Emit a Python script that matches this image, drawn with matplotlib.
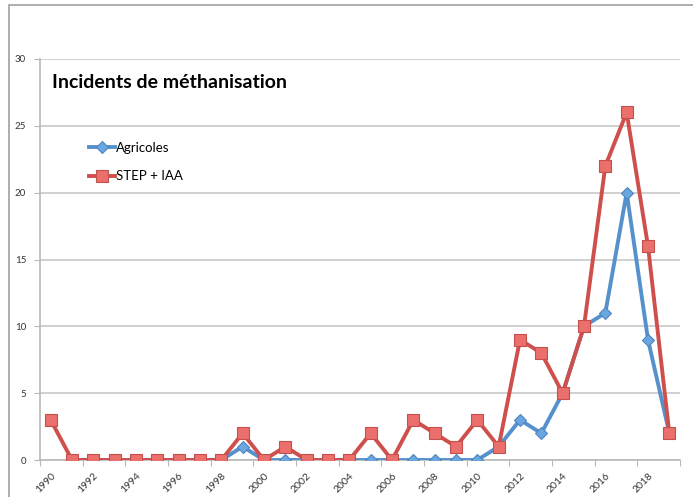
import matplotlib
matplotlib.use("Agg")
import matplotlib.pyplot as plt
import numpy as np
from matplotlib.patches import Rectangle

years = list(range(1990, 2020))
agricoles = [np.nan, 0, 0, 0, 0, 0, 0, 0, 0, 1, 0, 0, 0, 0, 0, 0, 0, 0, 0, 0, 0, 1, 3, 2, 5, 10, 11, 20, 9, 2]
step_iaa = [3, 0, 0, 0, 0, 0, 0, 0, 0, 2, 0, 1, 0, 0, 0, 2, 0, 3, 2, 1, 3, 1, 9, 8, 5, 10, 22, 26, 16, 2]
yticks = [0, 5, 10, 15, 20, 25, 30]
title = "Incidents de méthanisation"
labels = ["Agricoles", "STEP + IAA"]

W, H = 693, 497
fig = plt.figure(figsize=(W / 100, H / 100), dpi=100)
fig.patch.set_facecolor("white")

# outer chart frame
fig.add_artist(Rectangle((9 / W, -0.2), 1.2, 1.2 - 5 / H, transform=fig.transFigure,
                         fill=False, edgecolor="#a0a0a0", linewidth=1.2))

ax = fig.add_axes([40 / W, 1 - 460 / H, 640 / W, 401 / H])
x = np.arange(len(years))

ax.plot(x, agricoles, color="#5591cc", linewidth=2.8, marker="D", markersize=6.5,
        markerfacecolor="#6aa6e0", markeredgecolor="#4f86c0", markeredgewidth=0.8,
        label=labels[0], zorder=3)
ax.plot(x, step_iaa, color="#cf4f4c", linewidth=2.8, marker="s", markersize=8.5,
        markerfacecolor="#eb6f6c", markeredgecolor="#c4504d", markeredgewidth=0.8,
        label=labels[1], zorder=4)

ax.set_xlim(-0.5, len(years) - 0.5)
ax.set_ylim(0, 30)
ax.set_yticks(yticks)
ax.yaxis.grid(True, color="#c8c8c8", linewidth=1.2)
ax.set_axisbelow(True)
for s in ["top", "right"]:
    ax.spines[s].set_visible(False)
for s in ["left", "bottom"]:
    ax.spines[s].set_color("#b8b8b8")
    ax.spines[s].set_linewidth(1.2)

ax.tick_params(axis="y", length=4, color="#b8b8b8", labelsize=7, labelcolor="#333333", pad=6)

# major ticks at category boundaries (every 2), labels on category centers
ax.set_xticks(np.arange(-0.5, len(years), 2))
ax.set_xticklabels([])
ax.tick_params(axis="x", which="major", length=4, color="#b8b8b8", direction="out")
ax.set_xticks(x[::2], minor=True)
ax.set_xticklabels([str(y) for y in years[::2]], minor=True, rotation=45,
                   ha="right", va="top", rotation_mode="anchor",
                   fontsize=7.5, color="#333333")
ax.tick_params(axis="x", which="minor", length=0, pad=8)

for t in ax.get_yticklabels() + ax.get_xticklabels(minor=True):
    t.set_family("Lato")

fig.text(52 / W, 1 - 83 / H, title, fontsize=14, fontweight="bold",
         family="Lato", va="center", ha="left", color="black")

leg = ax.legend(loc="upper left", bbox_to_anchor=(77 / W, 1 - 130 / H),
                bbox_transform=fig.transFigure, frameon=False,
                handlelength=2.0, handletextpad=0.05, labelspacing=1.25,
                prop={"family": "Lato", "size": 9.5})

fig.savefig("out.png", dpi=100)
